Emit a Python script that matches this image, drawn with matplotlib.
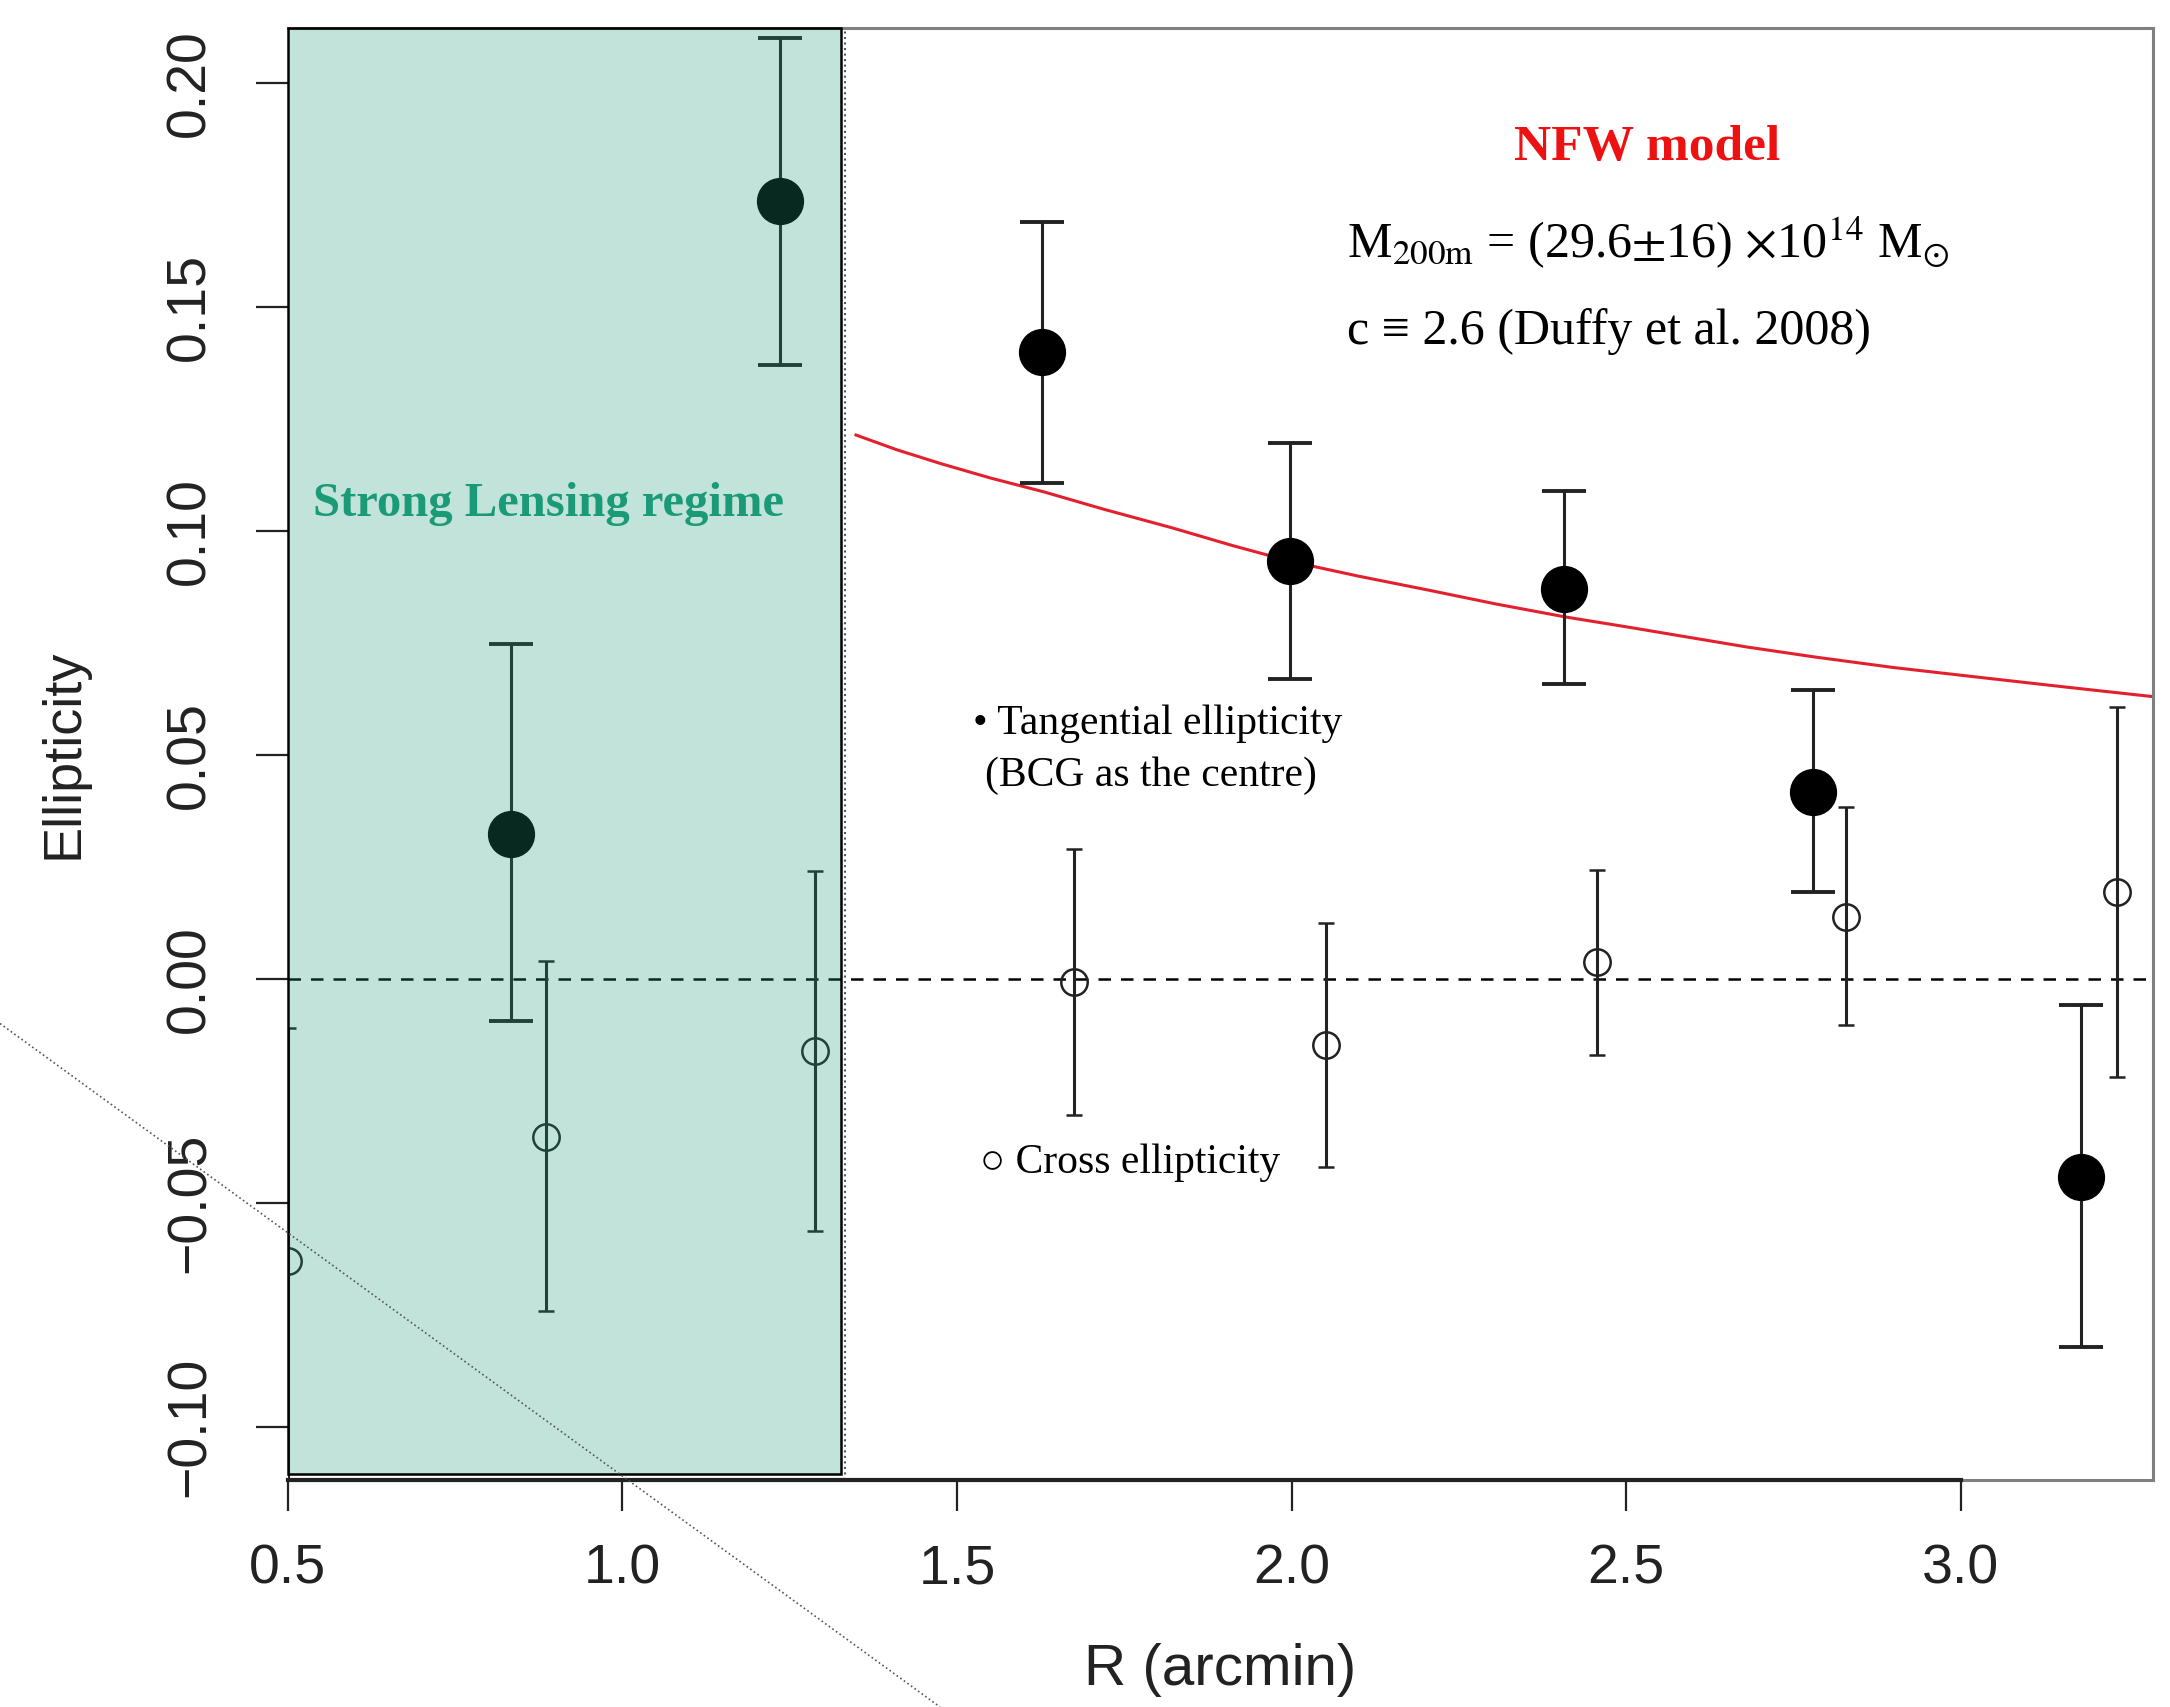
import matplotlib
matplotlib.use("Agg")
import matplotlib.pyplot as plt
from matplotlib.patches import Rectangle
from matplotlib.lines import Line2D

plt.rcParams['mathtext.fontset'] = 'stix'

# tangential ellipticity (filled points)
tan_r = [0.833, 1.236, 1.627, 1.997, 2.407, 2.779, 3.180]
tan_e = [0.0324, 0.1737, 0.140, 0.0933, 0.0871, 0.0417, -0.0442]
tan_lo = [-0.0093, 0.137, 0.1106, 0.067, 0.0658, 0.0195, -0.0822]
tan_hi = [0.0748, 0.210, 0.169, 0.1196, 0.1088, 0.0646, -0.0059]

# cross ellipticity (open points)
crs_r = [0.500, 0.885, 1.288, 1.675, 2.051, 2.456, 2.828, 3.234]
crs_e = [-0.063, -0.0352, -0.0161, -0.0006, -0.0148, 0.0037, 0.0139, 0.0195]
crs_lo = [-0.115, -0.0742, -0.0562, -0.0303, -0.042, -0.017, -0.0102, -0.0219]
crs_hi = [-0.011, 0.004, 0.0241, 0.029, 0.0124, 0.0244, 0.0383, 0.0606]

# NFW model curve
nfw_r = [1.349, 1.410, 1.476, 1.550, 1.630, 1.720, 1.821, 1.910, 2.001, 2.100, 2.204,
         2.305, 2.409, 2.500, 2.588, 2.680, 2.780, 2.900, 3.035, 3.160, 3.288]
nfw_e = [0.1214, 0.1181, 0.1150, 0.1118, 0.1087, 0.1048, 0.1007, 0.0968, 0.0931, 0.0899, 0.0868,
         0.0837, 0.0808, 0.0786, 0.0764, 0.0741, 0.0719, 0.0695, 0.0672, 0.0651, 0.0630]

xticks = [0.5, 1.0, 1.5, 2.0, 2.5, 3.0]
yticks = [-0.10, -0.05, 0.00, 0.05, 0.10, 0.15, 0.20]
sl_edge = 1.3266   # end of strong lensing regime box

fig = plt.figure(figsize=(21.7, 17.07), dpi=100)
ax = fig.add_axes([0.1327, 0.1330, 0.9922 - 0.1327, 0.9838 - 0.1330])
ax.set_xlim(0.5, 3.2877)
ax.set_ylim(-0.1118, 0.2123)

ax.axhline(0, color='black', lw=1.8, ls=(0, (5, 4)), zorder=1)
ax.axvline(1.333, color='#555555', lw=1.5, ls=':', zorder=1)

ax.plot(nfw_r, nfw_e, color='#e3202e', lw=2.2, zorder=2)

ax.errorbar(tan_r, tan_e,
            yerr=[[e - l for e, l in zip(tan_e, tan_lo)], [h - e for e, h in zip(tan_e, tan_hi)]],
            fmt='o', ms=33, mfc='black', mec='black', ecolor='#222222',
            elinewidth=2.2, capsize=16, capthick=2.8, zorder=3)
ax.errorbar(crs_r, crs_e,
            yerr=[[e - l for e, l in zip(crs_e, crs_lo)], [h - e for e, h in zip(crs_e, crs_hi)]],
            fmt='o', ms=19, mfc='none', mec='#222222', mew=1.8, ecolor='#222222',
            elinewidth=2.2, capsize=6, capthick=2.8, zorder=3)

# strong lensing overlay
ylo, yhi = ax.get_ylim()
ax.add_patch(Rectangle((0.5, -0.1105), sl_edge - 0.5, yhi + 0.1105,
                       facecolor=(0.10, 0.60, 0.47, 0.27), edgecolor='black',
                       lw=1.8, zorder=10, clip_on=False))

# frame
for s in ['top', 'right']:
    ax.spines[s].set_color('#808080')
    ax.spines[s].set_linewidth(2.2)
ax.spines['left'].set_visible(False)
ax.spines['bottom'].set_color('#222222')
ax.spines['bottom'].set_linewidth(3)
ax.spines['bottom'].set_bounds(0.5, 3.0)
ax.axhline(ylo, color='#808080', lw=2.2, clip_on=False, zorder=0)

ax.set_xticks(xticks)
ax.set_xticklabels([f"{t:.1f}" for t in xticks])
ax.set_yticks(yticks)
ax.set_yticklabels([f"{t:.2f}".replace('-', '\u2212') for t in yticks],
                   rotation=90, va='center', ha='center')
ax.tick_params(axis='x', length=22, width=1.6, pad=24, labelsize=40, colors='#222222')
ax.tick_params(axis='y', length=23, width=1.6, pad=47, labelsize=40, colors='#222222')
for lab in ax.get_xticklabels() + ax.get_yticklabels():
    lab.set_family('Liberation Sans')

ax.set_xlabel("R (arcmin)", fontsize=42, family='Liberation Sans', color='#222222')
ax.set_ylabel("Ellipticity", fontsize=39, family='Liberation Sans', color='#222222')
ax.xaxis.set_label_coords(0.5, -0.112)
ax.yaxis.set_label_coords(-0.107, 0.5)

serif = ['Liberation Serif', 'DejaVu Serif']
ax.text(0.889, 0.106, "Strong Lensing regime", color='#1b9a78', fontsize=35,
        fontweight='bold', family=serif, ha='center', va='center', zorder=11)
ax.text(2.531, 0.1855, "NFW model", color='#ee1111', fontsize=37,
        fontweight='bold', family=serif, ha='center', va='center')
ax.text(2.083, 0.1643, r"M$_{\mathrm{200m}}$ = (29.6$\pm$16) $\times$10$^{14}$ M$_{\odot}$",
        fontsize=36, family=serif, ha='left', va='center')
ax.text(2.083, 0.1444, "c \u2261 2.6 (Duffy et al. 2008)",
        fontsize=36, family=serif, ha='left', va='center')
ax.text(1.524, 0.0569, "\u2022 Tangential ellipticity", fontsize=30, family=serif,
        ha='left', va='center')
ax.text(1.542, 0.0453, "(BCG as the centre)", fontsize=30, family=serif,
        ha='left', va='center')
ax.text(1.534, -0.0411, "\u25cb Cross ellipticity", fontsize=30, family=serif,
        ha='left', va='center')

# stray diagonal line crossing the image
fig.add_artist(Line2D([0, 0.4332], [0.4004, 0], transform=fig.transFigure,
                      color='#555555', lw=1.2, ls=':', zorder=20))

fig.savefig("out.png", dpi=100)
